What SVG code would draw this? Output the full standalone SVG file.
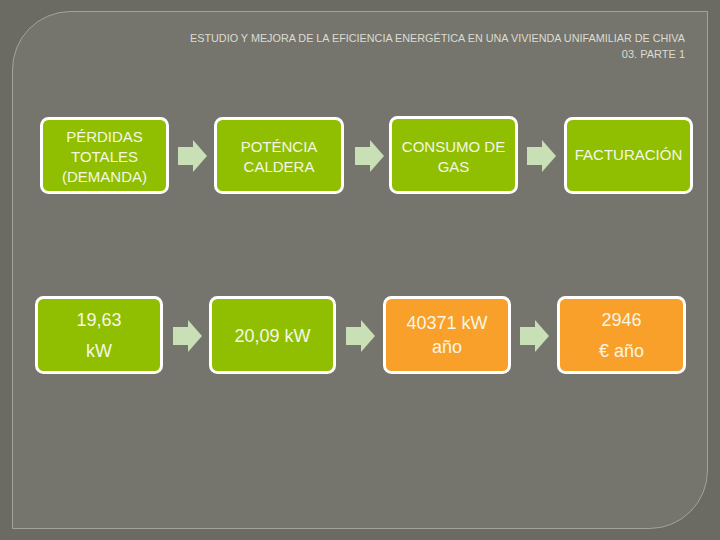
<svg xmlns="http://www.w3.org/2000/svg" width="720" height="540" viewBox="0 0 720 540">
<style>
.t{font-family:"Liberation Sans",Arial,sans-serif;fill:#f6f6e6;text-anchor:middle}
.h{font-size:15px}
.n{font-size:18px}
.g{fill:#8fbf00;stroke:#ffffff;stroke-width:3}
.o{fill:#f9a02a;stroke:#ffffff;stroke-width:3}
.title{font-family:"Liberation Sans",Arial,sans-serif;font-size:11px;fill:#dcdcd2;text-anchor:end}
</style>
<defs>
<path id="arr" d="M0,7 H15 V0 L29,16 L15,32 V25 H0 Z" fill="#c9dfb6"/>
</defs>
<rect x="0" y="0" width="720" height="540" fill="#6b6b63"/>
<path d="M70,11.5 H707.5 V470 A58,58 0 0 1 649.5,528.5 H12.5 V70 A58,58 0 0 1 70,11.5 Z" fill="#75756d" stroke="#a3a39a" stroke-width="1"/>
<g id="title">
<text class="title" x="685" y="42" textLength="495" lengthAdjust="spacingAndGlyphs">ESTUDIO Y MEJORA DE LA EFICIENCIA ENERGÉTICA EN UNA VIVIENDA UNIFAMILIAR DE CHIVA</text>
<text class="title" x="685" y="58">03. PARTE 1</text>
</g>
<g id="connectors">
<use href="#arr" x="178" y="140"/>
<use href="#arr" x="355" y="140"/>
<use href="#arr" x="527" y="140"/>
<use href="#arr" x="173" y="320"/>
<use href="#arr" x="346" y="320"/>
<use href="#arr" x="520" y="320"/>
</g>
<g id="perdidas">
<rect class="g" x="41.5" y="118.5" width="126" height="74" rx="7"/>
<text class="t h" x="104.5" y="141.5">PÉRDIDAS</text>
<text class="t h" x="104.5" y="161.5">TOTALES</text>
<text class="t h" x="104.5" y="181.5">(DEMANDA)</text>
</g>
<g id="potencia">
<rect class="g" x="215.5" y="118.5" width="127" height="74" rx="7"/>
<text class="t h" x="279" y="152">POTÉNCIA</text>
<text class="t h" x="279" y="172">CALDERA</text>
</g>
<g id="consumo">
<rect class="g" x="390.5" y="117.5" width="126" height="75" rx="7"/>
<text class="t h" x="453.5" y="152">CONSUMO DE</text>
<text class="t h" x="453.5" y="172">GAS</text>
</g>
<g id="facturacion">
<rect class="g" x="565.5" y="118.5" width="126" height="74" rx="7"/>
<text class="t h" x="628.5" y="160">FACTURACIÓN</text>
</g>
<g id="v1">
<rect class="g" x="36.5" y="297.5" width="125" height="75" rx="7"/>
<text class="t n" x="99" y="326">19,63</text>
<text class="t n" x="99" y="357">kW</text>
</g>
<g id="v2">
<rect class="g" x="210.5" y="297.5" width="124" height="75" rx="7"/>
<text class="t n" x="272.5" y="342">20,09 kW</text>
</g>
<g id="v3">
<rect class="o" x="384.5" y="297.5" width="125" height="75" rx="7"/>
<text class="t n" x="447" y="329">40371 kW</text>
<text class="t n" x="447" y="353">año</text>
</g>
<g id="v4">
<rect class="o" x="558.5" y="297.5" width="126" height="75" rx="7"/>
<text class="t n" x="621.5" y="326">2946</text>
<text class="t n" x="621.5" y="357">€ año</text>
</g>
</svg>
